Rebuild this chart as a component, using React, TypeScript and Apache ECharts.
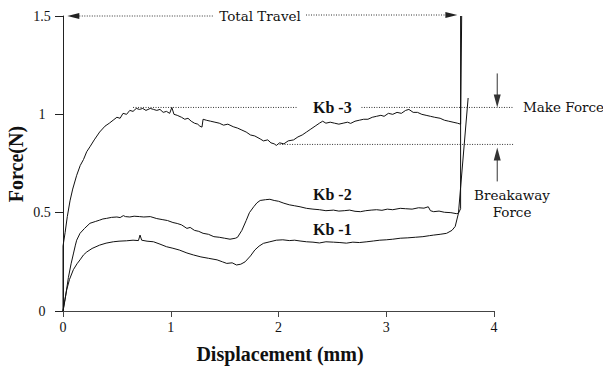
import React, { useEffect, useRef } from "react";
import * as echarts from "echarts";

// Displacement (mm), Force (N)
const kb3: [number, number][] = [
  [0, 0], [0, 0.33], [0.02, 0.4], [0.04, 0.48], [0.065, 0.56], [0.09, 0.62], [0.127, 0.69],
  [0.16, 0.74], [0.19, 0.77], [0.22, 0.81], [0.25, 0.835], [0.29, 0.87], [0.34, 0.91],
  [0.39, 0.94], [0.43, 0.955], [0.465, 0.97], [0.5, 0.985], [0.53, 0.98], [0.557, 1.005],
  [0.59, 1.0], [0.62, 1.02], [0.65, 1.015], [0.68, 1.03], [0.71, 1.025], [0.74, 1.03],
  [0.77, 1.02], [0.81, 1.03], [0.84, 1.025], [0.87, 1.02], [0.9, 1.025], [0.93, 1.01],
  [0.96, 1.015], [0.99, 1.005], [1.01, 1.035], [1.03, 1.0], [1.06, 0.995], [1.1, 0.985],
  [1.13, 0.975], [1.16, 0.98], [1.19, 0.965], [1.22, 0.955], [1.25, 0.95], [1.27, 0.94],
  [1.29, 0.935], [1.3, 0.975], [1.33, 0.97], [1.37, 0.965], [1.41, 0.96], [1.45, 0.955],
  [1.49, 0.945], [1.53, 0.95], [1.58, 0.937], [1.62, 0.93], [1.66, 0.92], [1.7, 0.91],
  [1.74, 0.895], [1.78, 0.89], [1.83, 0.875], [1.86, 0.865], [1.9, 0.87], [1.93, 0.855],
  [1.96, 0.85], [1.98, 0.842], [2.01, 0.855], [2.05, 0.85], [2.09, 0.865], [2.14, 0.87],
  [2.18, 0.885], [2.22, 0.895], [2.26, 0.91], [2.3, 0.925], [2.34, 0.94], [2.38, 0.955],
  [2.41, 0.965], [2.44, 0.955], [2.48, 0.96], [2.52, 0.955], [2.56, 0.95], [2.6, 0.955],
  [2.64, 0.96], [2.67, 0.954], [2.71, 0.965], [2.75, 0.97], [2.79, 0.975], [2.83, 0.975],
  [2.87, 0.985], [2.91, 0.99], [2.95, 0.995], [2.98, 0.99], [3.02, 1.005], [3.06, 1.0],
  [3.1, 1.01], [3.14, 1.005], [3.18, 1.02], [3.21, 1.025], [3.25, 1.01], [3.29, 1.01],
  [3.33, 1.0], [3.37, 0.995], [3.41, 0.99], [3.45, 0.985], [3.5, 0.98], [3.54, 0.97],
  [3.58, 0.965], [3.62, 0.96], [3.66, 0.955], [3.69, 0.95], [3.7, 1.5],
];

const kb2: [number, number][] = [
  [0, 0], [0.02, 0.06], [0.05, 0.17], [0.075, 0.24], [0.096, 0.29], [0.115, 0.335],
  [0.127, 0.36], [0.158, 0.395], [0.2, 0.42], [0.25, 0.446], [0.3, 0.455], [0.34, 0.462],
  [0.37, 0.468], [0.405, 0.471], [0.45, 0.476], [0.5, 0.478], [0.53, 0.475], [0.56, 0.485],
  [0.58, 0.48], [0.62, 0.478], [0.66, 0.482], [0.71, 0.48], [0.75, 0.478], [0.81, 0.48],
  [0.87, 0.47], [0.92, 0.465], [0.97, 0.46], [1.02, 0.45], [1.06, 0.445], [1.1, 0.438],
  [1.15, 0.42], [1.18, 0.425], [1.22, 0.41], [1.26, 0.405], [1.3, 0.395], [1.35, 0.39],
  [1.4, 0.378], [1.45, 0.375], [1.5, 0.37], [1.55, 0.365], [1.6, 0.37], [1.62, 0.375],
  [1.66, 0.41], [1.7, 0.46], [1.73, 0.5], [1.77, 0.53], [1.8, 0.55], [1.83, 0.562],
  [1.88, 0.566], [1.92, 0.568], [1.96, 0.562], [2.0, 0.558], [2.05, 0.548], [2.1, 0.54],
  [2.15, 0.535], [2.2, 0.53], [2.26, 0.522], [2.32, 0.518], [2.38, 0.515], [2.44, 0.51],
  [2.51, 0.513], [2.56, 0.508], [2.61, 0.51], [2.66, 0.513], [2.71, 0.507], [2.76, 0.505],
  [2.81, 0.51], [2.86, 0.513], [2.91, 0.515], [2.96, 0.512], [3.01, 0.518], [3.06, 0.515],
  [3.13, 0.522], [3.18, 0.52], [3.24, 0.518], [3.3, 0.525], [3.35, 0.523], [3.39, 0.53],
  [3.41, 0.51], [3.44, 0.505], [3.49, 0.508], [3.54, 0.502], [3.6, 0.5], [3.65, 0.495],
  [3.67, 0.497], [3.76, 1.083],
];

const kb1: [number, number][] = [
  [0, 0], [0.015, 0.05], [0.034, 0.107], [0.06, 0.16], [0.096, 0.21], [0.13, 0.24],
  [0.158, 0.26], [0.19, 0.285], [0.22, 0.3], [0.27, 0.318], [0.34, 0.335], [0.4, 0.345],
  [0.467, 0.352], [0.52, 0.355], [0.59, 0.357], [0.65, 0.36], [0.7, 0.358], [0.715, 0.386],
  [0.73, 0.36], [0.78, 0.355], [0.84, 0.352], [0.9, 0.34], [0.96, 0.327], [1.02, 0.319],
  [1.08, 0.31], [1.15, 0.295], [1.21, 0.285], [1.28, 0.275], [1.35, 0.268], [1.43, 0.26],
  [1.48, 0.25], [1.52, 0.242], [1.57, 0.245], [1.61, 0.234], [1.65, 0.238], [1.69, 0.25],
  [1.74, 0.28], [1.78, 0.31], [1.82, 0.33], [1.86, 0.344], [1.92, 0.352], [1.98, 0.36],
  [2.04, 0.362], [2.1, 0.358], [2.15, 0.36], [2.2, 0.356], [2.26, 0.352], [2.32, 0.35],
  [2.38, 0.346], [2.44, 0.352], [2.51, 0.35], [2.57, 0.348], [2.63, 0.345], [2.69, 0.35],
  [2.75, 0.348], [2.82, 0.352], [2.88, 0.356], [2.94, 0.36], [3.0, 0.362], [3.06, 0.365],
  [3.13, 0.37], [3.2, 0.372], [3.27, 0.375], [3.34, 0.378], [3.4, 0.383], [3.44, 0.386],
  [3.5, 0.39], [3.56, 0.395], [3.61, 0.41], [3.64, 0.43], [3.67, 0.497], [3.69, 0.52],
  [3.69, 1.5],
];

const xTicks = [0, 4, 1];
const yTicks = [0, 1.5, 0.5];
const makeForce = 1.035;
const breakawayForce = 0.847;

const SERIF = '"DejaVu Serif", serif';
const TIMES = '"Liberation Serif", serif';

export default function App() {
  const ref = useRef<HTMLDivElement>(null);
  useEffect(() => {
    document.body.style.margin = "0";
    const chart = echarts.init(ref.current!, null, { renderer: "svg" });
    const lineSeries = (name: string, data: [number, number][]) => ({
      name,
      type: "line",
      data,
      showSymbol: false,
      symbol: "none",
      lineStyle: { color: "#111", width: 1 },
      clip: true,
    });
    chart.setOption({
      animation: false,
      backgroundColor: "#fff",
      grid: { left: 63, right: 109, top: 16, bottom: 56 },
      xAxis: {
        type: "value",
        min: xTicks[0],
        max: xTicks[1],
        interval: xTicks[2],
        splitLine: { show: false },
        axisLine: { show: true, lineStyle: { color: "#444", width: 1 } },
        axisTick: { show: true, length: 6, lineStyle: { color: "#444" } },
        axisLabel: { fontFamily: TIMES, fontSize: 14, color: "#111", margin: 9 },
      },
      yAxis: {
        type: "value",
        min: yTicks[0],
        max: yTicks[1],
        interval: yTicks[2],
        splitLine: { show: false },
        axisLine: { show: true, lineStyle: { color: "#222", width: 1 } },
        axisTick: { show: true, length: 8, lineStyle: { color: "#222" } },
        axisLabel: { fontFamily: TIMES, fontSize: 14, color: "#111", margin: 21, align: "center" },
      },
      series: [lineSeries("Kb -1", kb1), lineSeries("Kb -2", kb2), lineSeries("Kb -3", kb3)],
    });

    const px = (x: number, y: number) => chart.convertToPixel({ gridIndex: 0 }, [x, y]) as number[];
    const dot = { stroke: "#333", lineWidth: 1, lineDash: [1, 1.5] };
    const hline = (x1: number, x2: number, y: number) => {
      const a = px(x1, y);
      const b = px(x2, y);
      return { type: "line", shape: { x1: a[0], y1: a[1], x2: b[0], y2: b[1] }, style: dot, silent: true };
    };
    const top = px(0, 1.5);
    const leftTip = px(0.04, 1.5);
    const rightTip = px(3.66, 1.5);
    const mk = px(4.03, makeForce);
    const br = px(4.03, breakawayForce);
    const lbl3 = px(2.32, makeForce);
    const lbl2 = px(2.32, 0.59);
    const lbl1 = px(2.32, 0.413);
    const ax = mk[0];
    const txt = (x: number, y: number, text: string, font: string, align = "left") => ({
      type: "text",
      x,
      y,
      silent: true,
      style: { text, font, fill: "#111", align, verticalAlign: "middle" },
    });

    chart.setOption({
      graphic: [
        // Total travel
        { type: "line", shape: { x1: leftTip[0] + 12, y1: top[1], x2: 214, y2: top[1] }, style: dot },
        { type: "line", shape: { x1: 306, y1: top[1] - 1, x2: rightTip[0] - 11, y2: top[1] - 1 }, style: dot },
        {
          type: "polygon",
          shape: { points: [[leftTip[0], top[1]], [leftTip[0] + 12, top[1] - 3], [leftTip[0] + 12, top[1] + 3]] },
          style: { fill: "#222" },
        },
        {
          type: "polygon",
          shape: { points: [[rightTip[0], top[1] - 1], [rightTip[0] - 12, top[1] - 4], [rightTip[0] - 12, top[1] + 2]] },
          style: { fill: "#222" },
        },
        txt(260, top[1], "Total Travel", `13.5px ${SERIF}`, "center"),
        // reference lines
        hline(0.65, 2.18, makeForce),
        hline(2.77, 4.18, makeForce),
        hline(2.01, 4.18, breakawayForce),
        // make force arrow (down)
        { type: "line", shape: { x1: ax, y1: mk[1] - 34, x2: ax, y2: mk[1] - 10 }, style: { stroke: "#333", lineWidth: 1 } },
        {
          type: "polygon",
          shape: { points: [[ax, mk[1]], [ax - 3.5, mk[1] - 13], [ax + 3.5, mk[1] - 13]] },
          style: { fill: "#333" },
        },
        // breakaway arrow (up)
        { type: "line", shape: { x1: ax, y1: br[1] + 12, x2: ax, y2: br[1] + 37 }, style: { stroke: "#333", lineWidth: 1 } },
        {
          type: "polygon",
          shape: { points: [[ax, br[1] + 3], [ax - 3.5, br[1] + 16], [ax + 3.5, br[1] + 16]] },
          style: { fill: "#333" },
        },
        txt(523, mk[1], "Make Force", `13.5px ${SERIF}`),
        txt(512, 195, "Breakaway", `13.5px ${SERIF}`, "center"),
        txt(512, 212, "Force", `13.5px ${SERIF}`, "center"),
        // curve labels
        txt(lbl3[0], lbl3[1], "Kb -3", `bold 16px ${TIMES}`),
        txt(lbl2[0], lbl2[1], "Kb -2", `bold 16px ${TIMES}`),
        txt(lbl1[0], lbl1[1], "Kb -1", `bold 16px ${TIMES}`),
        // axis titles
        txt(280, 354, "Displacement (mm)", `bold 20px ${TIMES}`, "center"),
        {
          type: "text",
          x: 16,
          y: 164,
          rotation: Math.PI / 2,
          silent: true,
          style: { text: "Force(N)", font: `bold 20px ${TIMES}`, fill: "#111", align: "center", verticalAlign: "middle" },
        },
      ],
    });
    return () => chart.dispose();
  }, []);
  return <div ref={ref} style={{ width: 603, height: 367 }} />;
}
